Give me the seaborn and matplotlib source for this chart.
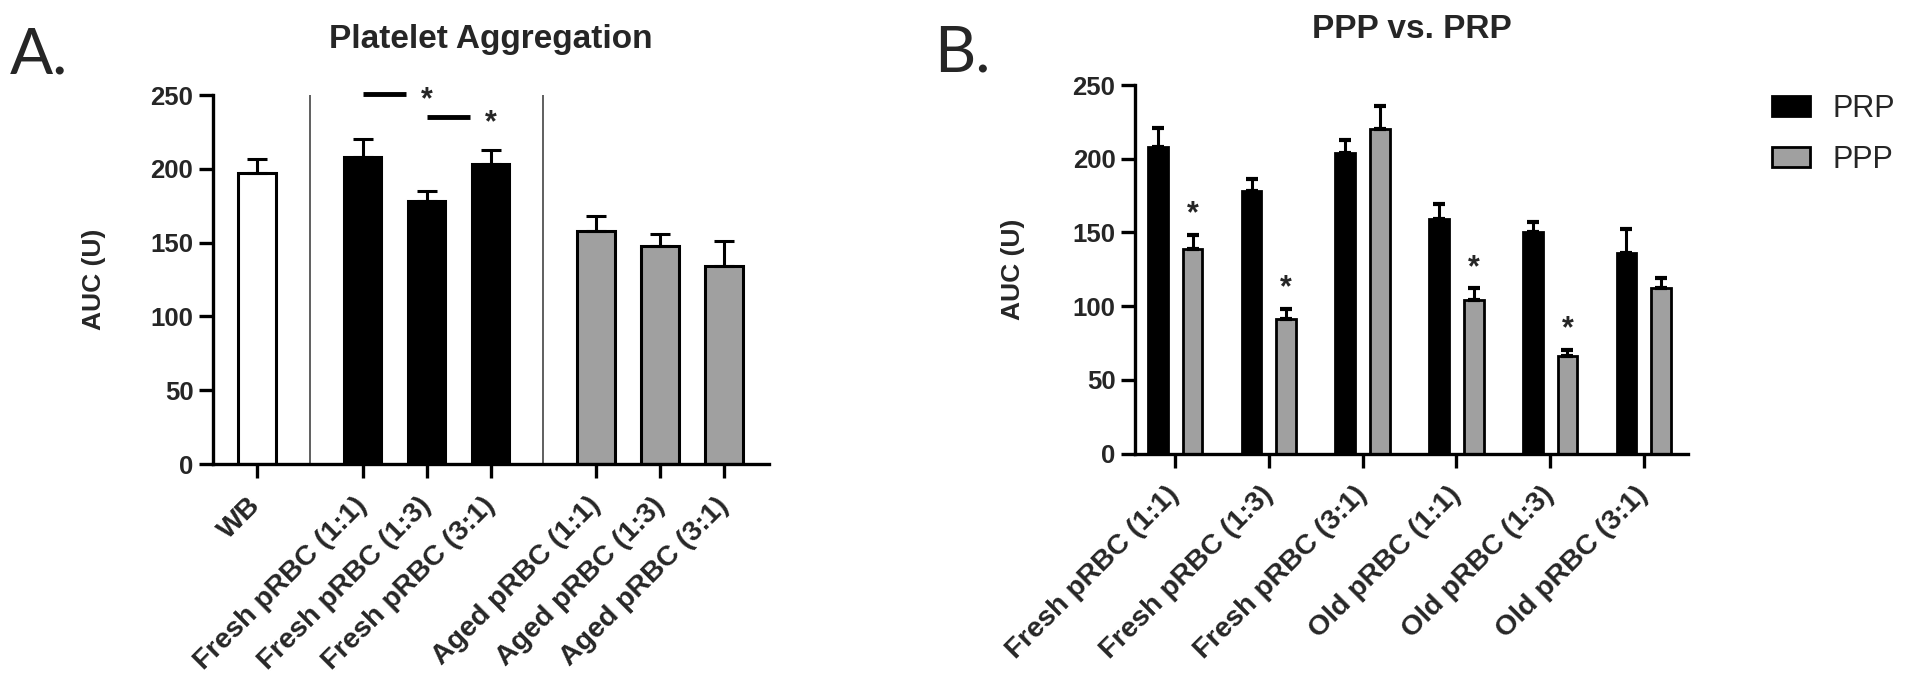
import numpy as np
import pandas as pd
import matplotlib
matplotlib.use("Agg")
import matplotlib.pyplot as plt
import seaborn as sns

# ---- Panel A: platelet aggregation ----
labels_a = ["WB", "Fresh pRBC (1:1)", "Fresh pRBC (1:3)", "Fresh pRBC (3:1)",
            "Aged pRBC (1:1)", "Aged pRBC (1:3)", "Aged pRBC (3:1)"]
groups_a = ["WB", "Fresh", "Fresh", "Fresh", "Aged", "Aged", "Aged"]
auc_a = [197, 208, 178, 203, 158, 148, 134]
err_a = [10, 12, 7, 10, 10, 8, 17]

# ---- Panel B: PPP vs PRP ----
conds_b = ["Fresh pRBC (1:1)", "Fresh pRBC (1:3)", "Fresh pRBC (3:1)",
           "Old pRBC (1:1)", "Old pRBC (1:3)", "Old pRBC (3:1)"]
prp_auc = [208, 178, 204, 159, 150, 136]
prp_err = [13, 8, 9, 10, 7, 16]
ppp_auc = [139, 91, 220, 104, 66, 112]
ppp_err = [9, 7, 16, 8, 4, 7]
ppp_sig = [True, True, False, True, True, False]

GRAY = "#a0a0a0"
sns.set_theme(style="ticks")
plt.rcParams["font.family"] = ["Liberation Sans", "DejaVu Sans"]
plt.rcParams["axes.linewidth"] = 2.4

fig = plt.figure(figsize=(19.1, 6.78), dpi=100)
ax_a = fig.add_axes([0.1114, 0.3156, 0.2912, 0.5442])
ax_b = fig.add_axes([0.5942, 0.3311, 0.2895, 0.5435])

# bars of a group sit side by side, groups separated by an extra gap
group_gap = 0.65
grp_idx = pd.factorize(pd.Series(groups_a))[0]
pos_a = np.arange(len(labels_a)) + group_gap * grp_idx
df_a = pd.DataFrame({"pos": pos_a, "auc": auc_a, "group": groups_a})

sns.barplot(data=df_a, x="pos", y="auc", hue="group",
            palette={"WB": "white", "Fresh": "black", "Aged": GRAY},
            native_scale=True, dodge=False, width=0.59, errorbar=None,
            edgecolor="black", linewidth=2.2, legend=False, ax=ax_a)
ax_a.errorbar(pos_a, auc_a, yerr=[np.zeros(len(err_a)), err_a], fmt="none",
              ecolor="black", elinewidth=2.2, capsize=7.5, capthick=2.2, zorder=1)

# thin separators between groups
for i in range(1, len(groups_a)):
    if groups_a[i] != groups_a[i - 1]:
        ax_a.axvline((pos_a[i] + pos_a[i - 1]) / 2, color="#444444", lw=1.2, zorder=0)

# significance marks
for (i, j), h in zip([(1, 2), (2, 3)], [250.5, 235]):
    ax_a.plot([pos_a[i], pos_a[j] - 0.32], [h, h], color="black", lw=3.5,
              solid_capstyle="butt", clip_on=False)
    ax_a.text(pos_a[j], h - 4, "*", ha="center", va="center", fontsize=22,
              fontweight="bold", clip_on=False)

ax_a.set_xlim(-0.69, 8.0)
ax_a.set_ylim(0, 250)
ax_a.set_xticks(pos_a)
ax_a.set_xticklabels(labels_a)
ax_a.set_xlabel("")
ax_a.set_title("Platelet Aggregation", fontsize=24, fontweight="bold", pad=34)

# ---- Panel B ----
df_b = pd.DataFrame({
    "cond": conds_b * 2,
    "plasma": ["PRP"] * len(conds_b) + ["PPP"] * len(conds_b),
    "auc": prp_auc + ppp_auc,
})
sns.barplot(data=df_b, x="cond", y="auc", hue="plasma", order=conds_b,
            hue_order=["PRP", "PPP"], palette={"PRP": "black", "PPP": GRAY},
            width=0.74, gap=0.43, errorbar=None, edgecolor="black",
            linewidth=2.0, ax=ax_b)

for cont, errs, sig in zip(ax_b.containers, [prp_err, ppp_err],
                           [[False] * len(conds_b), ppp_sig]):
    xs = [b.get_x() + b.get_width() / 2 for b in cont]
    hs = [b.get_height() for b in cont]
    ax_b.errorbar(xs, hs, yerr=[np.zeros(len(errs)), errs], fmt="none",
                  ecolor="black", elinewidth=2.2, capsize=4, capthick=3, zorder=1)
    for x, h, e, s in zip(xs, hs, errs, sig):
        if s:
            ax_b.text(x, h + e + 14, "*", ha="center", va="center",
                      fontsize=22, fontweight="bold")

ax_b.set_xlim(-0.43, 5.47)
ax_b.set_ylim(0, 250)
ax_b.set_xlabel("")
ax_b.set_title("PPP vs. PRP", fontsize=24, fontweight="bold", pad=34)

handles, leg_labels = ax_b.get_legend_handles_labels()
ax_b.legend(handles, leg_labels, loc="upper left", bbox_to_anchor=(0.9277, 0.862),
            bbox_transform=fig.transFigure, frameon=False, fontsize=22,
            handlelength=1.24, handleheight=0.65, handletextpad=0.75,
            labelspacing=0.7, borderpad=0, borderaxespad=0)

for ax, pad in [(ax_a, 32), (ax_b, 34)]:
    sns.despine(ax=ax)
    ax.set_yticks([0, 50, 100, 150, 200, 250])
    ax.tick_params(axis="both", width=2.4, length=10, color="black")
    ax.tick_params(axis="y", pad=4, labelsize=18.5)
    ax.tick_params(axis="x", pad=17, labelsize=20.5)
    ax.set_ylabel("AUC (U)", fontsize=19, fontweight="bold", labelpad=pad)
    for lab in ax.get_yticklabels():
        lab.set_fontweight("bold")
    for lab in ax.get_xticklabels():
        lab.set_fontweight("bold")
        lab.set_rotation(45)
        lab.set_ha("right")
        lab.set_va("center")
        lab.set_rotation_mode("anchor")
    for sp in ax.spines.values():
        sp.set_color("black")

fig.text(0.005, 0.892, "A.", fontsize=46, family=["Lato", "DejaVu Sans"], va="baseline")
fig.text(0.489, 0.894, "B.", fontsize=46, family=["Lato", "DejaVu Sans"], va="baseline")

fig.savefig("out.png", dpi=100)
